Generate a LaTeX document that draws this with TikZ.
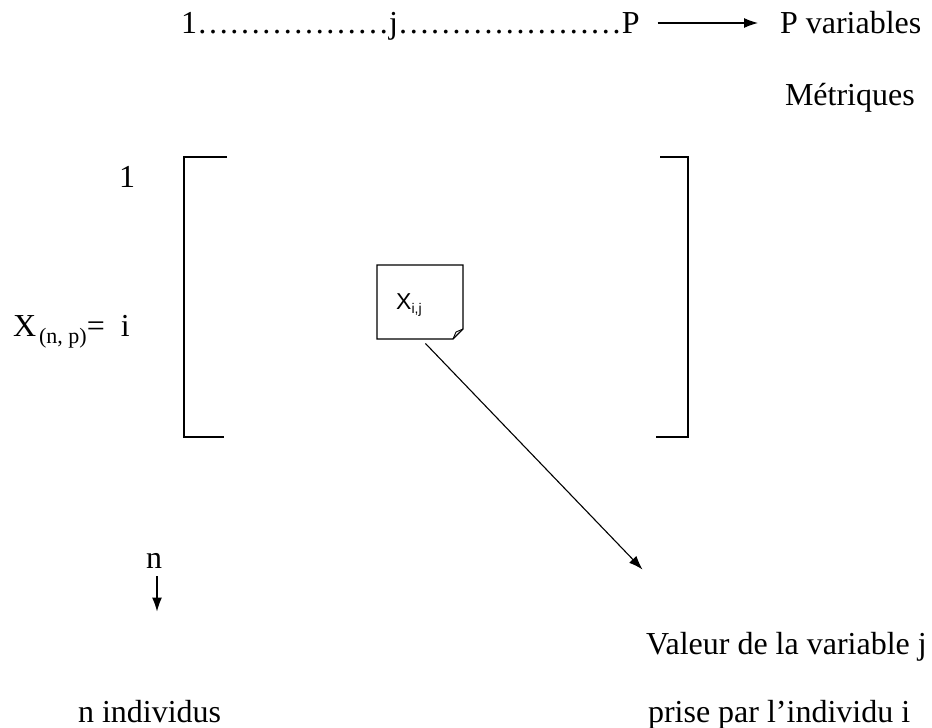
\documentclass[tikz,border=0pt]{standalone}
\usepackage{fontspec}
\setmainfont{Liberation Serif}
\newfontfamily\arialfont{Liberation Sans}
\usetikzlibrary{arrows.meta}
\tikzset{
  txt/.style={inner sep=0pt, outer sep=0pt, anchor=base west, font=\fontsize{32}{38}\selectfont},
  brk/.style={line width=1.6pt},
  conn/.style={line width=1.1pt, -{Latex[length=14pt,width=10pt]}},
  pt/.style={inner sep=0pt, outer sep=0pt},
}
\begin{document}
\begin{tikzpicture}[x=1pt,y=-1pt]
\useasboundingbox (0,0) rectangle (932,728);
% top header
\node[txt] (cols) at (181,33) {1………………j…………………P};
\node[txt] (pvar) at (780,33) {P variables};
\node[txt] (metr) at (785,105) {Métriques};
\draw[conn] ([xshift=18pt,yshift=10pt]cols.base east) -- ([xshift=-22pt,yshift=10pt]pvar.base west);
% row labels
\node[txt] (one) at (119,187) {1};
\node[txt] (xnp) at (13,336) {X\kern3pt{\fontsize{22}{24}\selectfont\raisebox{-7pt}{(n, p)}}=\ \ i};
% brackets
\coordinate (lt) at (184,157);
\coordinate (lb) at (184,437);
\coordinate (rt) at (688,157);
\coordinate (rb) at (688,437);
\draw[brk] ([xshift=43pt]lt) -- (lt) -- (lb) -- ([xshift=40pt]lb);
\draw[brk] ([xshift=-28pt]rt) -- (rt) -- (rb) -- ([xshift=-32pt]rb);
% note element
\draw[line width=1.3pt, fill=white] (377,265) -- (463,265) -- (463,329) -- (453,339) -- (377,339) -- cycle;
\draw[line width=0.9pt] (463,329) -- (456,332) -- (453,339);
\node[inner sep=0pt, anchor=base west, font=\arialfont\fontsize{23}{27}\selectfont] (xij) at (396,309) {X\raisebox{-4pt}{\fontsize{14}{16}\selectfont i,j}};
\node[pt] (noteb) at (425,343) {};
\node[pt] (valtip) at (643,570) {};
\draw[conn] (noteb) -- (valtip);
% n arrow
\node[txt] (n) at (146,568) {n};
\node[pt] (ntip) at (157,612) {};
\draw[conn, -{Latex[length=14pt,width=10pt]}] (157,576) -- (ntip);
% bottom texts
\node[txt] (val) at (646,654) {Valeur de la variable j};
\node[txt] (ind) at (78,722) {n individus};
\node[txt] (prise) at (648,722) {prise par l’individu i};
\end{tikzpicture}
\end{document}
